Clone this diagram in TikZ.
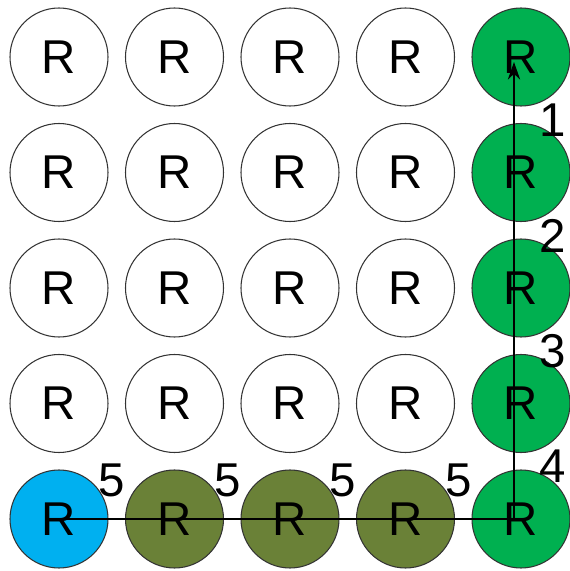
\documentclass[tikz,border=0pt]{standalone}
\usepackage{fontspec}
\setmainfont{Liberation Sans}
\usepackage{tikz}
\usetikzlibrary{arrows.meta,calc}
\definecolor{CellBlue}{HTML}{00B0F0}
\definecolor{CellOlive}{HTML}{6A8137}
\definecolor{CellGreen}{HTML}{00B050}
\definecolor{CellEdge}{HTML}{333333}
\tikzset{
  cell/.style={circle,draw=CellEdge,line width=0.6pt,
               minimum size=1.96cm,inner sep=0pt,
               font=\fontsize{27}{32}\selectfont},
  cW/.style={cell,fill=white},
  cB/.style={cell,fill=CellBlue},
  cO/.style={cell,fill=CellOlive},
  cG/.style={cell,fill=CellGreen},
  arr/.style={-{Stealth[length=10pt,width=7pt]},line width=1.1pt},
  wt/.style={font=\fontsize{27}{32}\selectfont,inner sep=0pt}
}

\begin{document}
\begin{tikzpicture}
  \useasboundingbox (0,0) rectangle (11.4,11.42);
  % white grid
  \foreach \c in {1,...,4}
    \foreach \r in {1,...,4}
      \node[cW] (r-\c-\r) at ({1.18+2.31*(\c-1)},{10.28-2.31*(\r-1)}) {R};
  % right column
  \foreach \r in {1,...,5}
    \node[cG] (r-5-\r) at ({1.18+2.31*4},{10.28-2.31*(\r-1)}) {R};
  % bottom row
  \node[cB] (r-1-5) at (1.18,{10.28-2.31*4}) {R};
  \foreach \c in {2,3,4}
    \node[cO] (r-\c-5) at ({1.18+2.31*(\c-1)},{10.28-2.31*4}) {R};

  \coordinate (turn) at ($(r-5-5.center)+(-0.14,0)$);
  \coordinate (goal) at ($(r-5-1.center)+(-0.14,-0.1)$);
  \draw[arr] (r-1-5.center) -- (turn) -- (goal);

  \foreach \c in {1,...,4}
    \node[wt] (h-\c) at ($(r-\c-5.center)+(1.06,0.78)$) {5};
  \foreach \r in {1,...,4}
    \node[wt] (v-\r) at ($(r-5-\r.center)+(0.64,-1.26)$) {\r};
\end{tikzpicture}
\end{document}
